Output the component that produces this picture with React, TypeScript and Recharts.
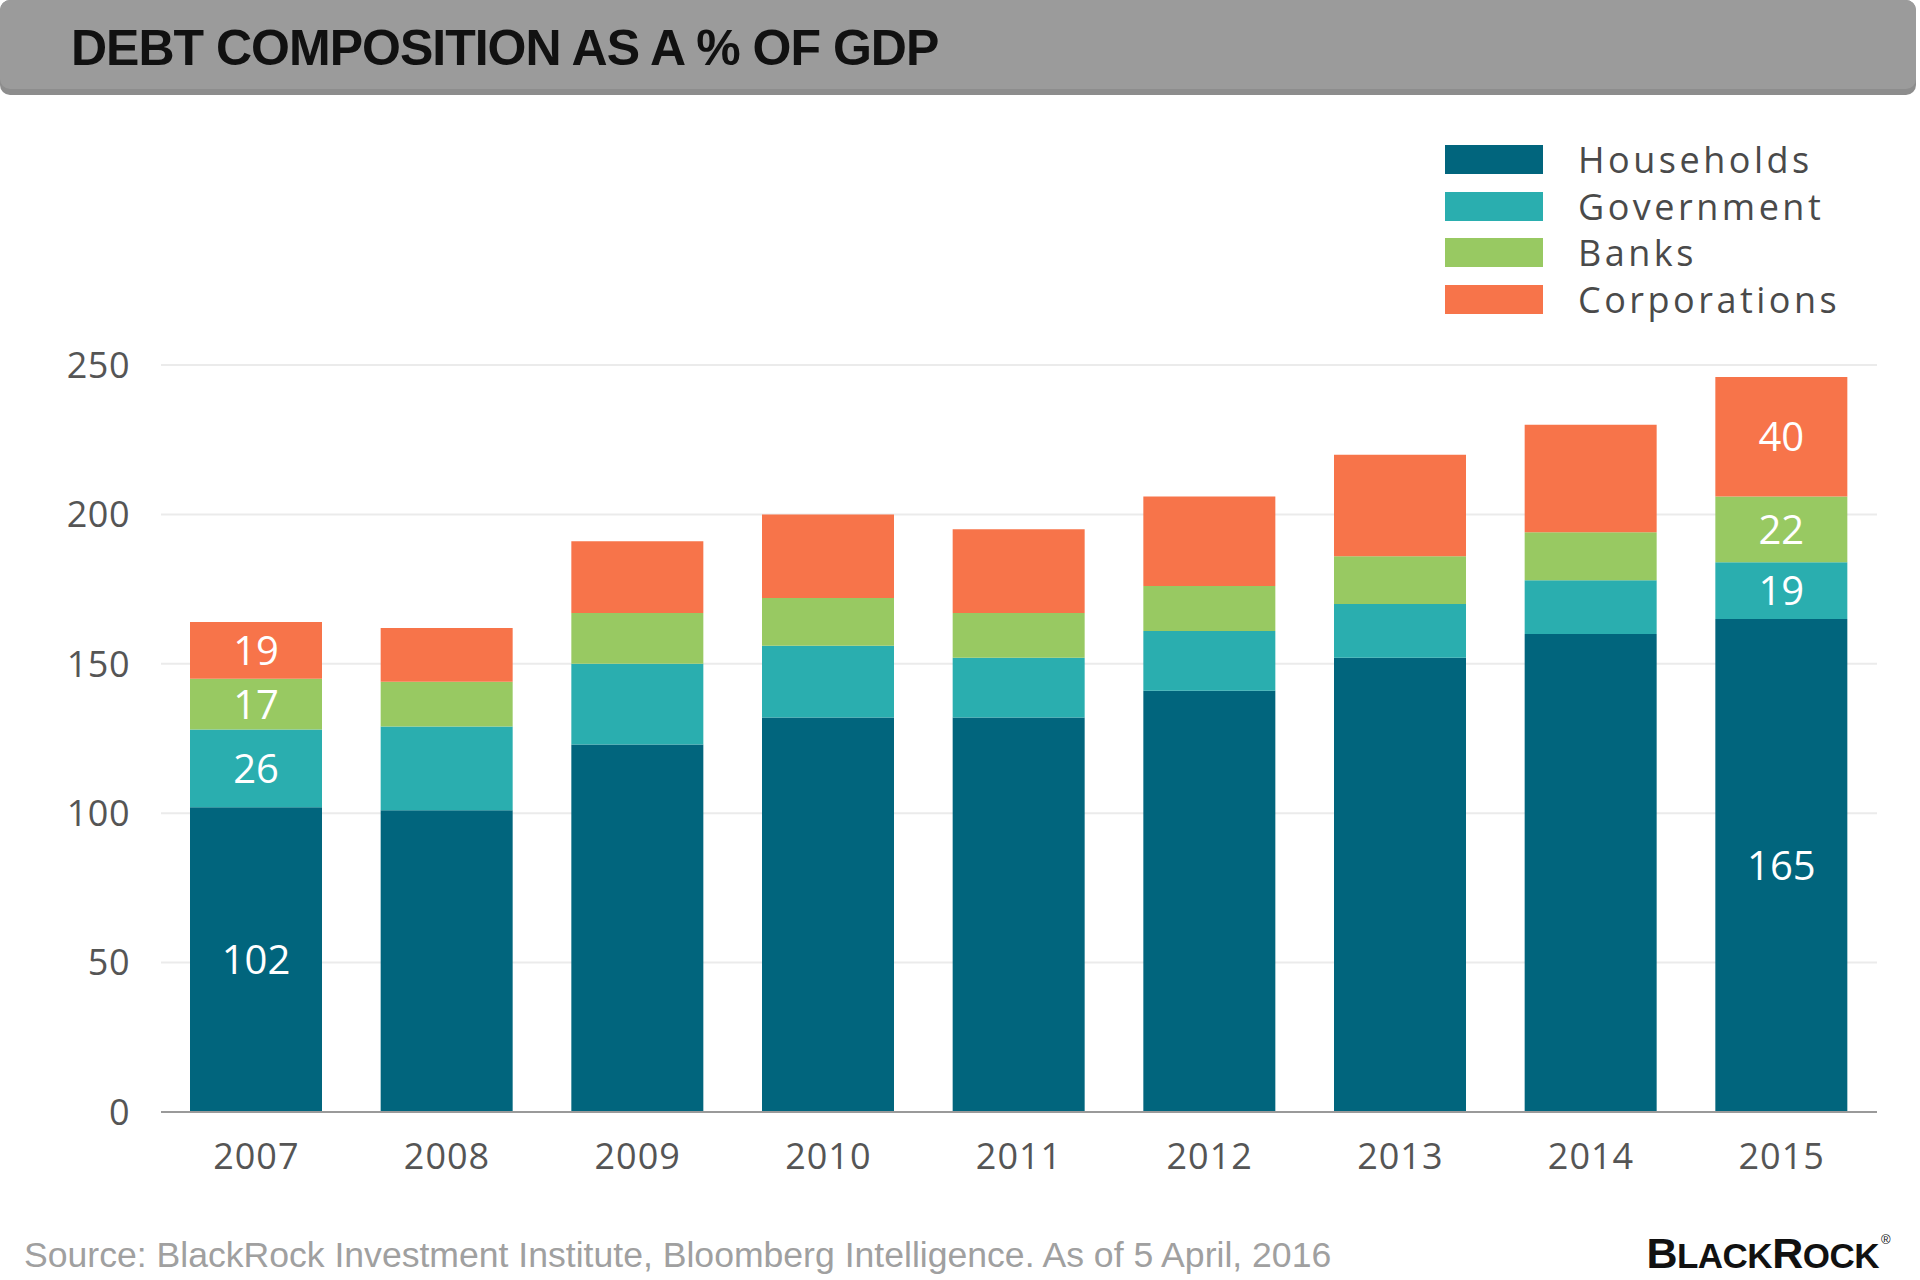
import { Bar, BarChart, CartesianGrid, LabelList, Legend, XAxis, YAxis } from "recharts";

// Werte (% des BIP)
const YEARS = ["2007", "2008", "2009", "2010", "2011", "2012", "2013", "2014", "2015"];
const HOUSEHOLDS = [102, 101, 123, 132, 132, 141, 152, 160, 165];
const GOVERNMENT = [26, 28, 27, 24, 20, 20, 18, 18, 19];
const BANKS = [17, 15, 17, 16, 15, 15, 16, 16, 22];
const CORPORATIONS = [19, 18, 24, 28, 28, 30, 34, 36, 40];
const Y_TICKS = [0, 50, 100, 150, 200, 250];
const LABELED_YEARS = ["2007", "2015"];

const SERIES = [
  { key: "households", name: "Households", color: "#01657d" },
  { key: "government", name: "Government", color: "#2aaeaf" },
  { key: "banks", name: "Banks", color: "#98c962" },
  { key: "corporations", name: "Corporations", color: "#f7744a" },
];

const data = YEARS.map((year, i) => ({
  year,
  households: HOUSEHOLDS[i],
  government: GOVERNMENT[i],
  banks: BANKS[i],
  corporations: CORPORATIONS[i],
}));

const FONT = "'Open Sans', sans-serif";
const ARIAL = "'Liberation Sans', Arial, sans-serif";

function renderLabel(props: any) {
  const { index, value } = props;
  const box = props.viewBox ?? props;
  if (!LABELED_YEARS.includes(YEARS[index])) return null;
  return (
    <text
      x={box.x + box.width / 2}
      y={box.y + box.height / 2}
      dy="0.36em"
      textAnchor="middle"
      fill="#ffffff"
      fontSize={40}
      fontFamily={FONT}
    >
      {value}
    </text>
  );
}

// Legende in Stapel-Reihenfolge (nicht alphabetisch)
function LegendBox({ payload }: any) {
  const items = SERIES.map((s) => (payload ?? []).find((p: any) => p.value === s.name) ?? { value: s.name, color: s.color });
  return (
    <div style={{ display: "flex", flexDirection: "column", gap: 17.5 }}>
      {items.map((p: any) => (
        <div key={p.value} style={{ display: "flex", alignItems: "center", height: 29 }}>
          <span style={{ width: 98, height: 29, background: p.color, display: "inline-block" }} />
          <span
            style={{
              marginLeft: 35,
              fontFamily: FONT,
              fontSize: 36,
              letterSpacing: 3.5,
              color: "#4a4a4a",
              lineHeight: "29px",
            }}
          >
            {p.value}
          </span>
        </div>
      ))}
    </div>
  );
}

export default function App() {
  return (
    <div style={{ position: "absolute", left: 0, top: 0, width: 1920, height: 1280, background: "#fff", overflow: "hidden" }}>
      {/* Kopfzeile, Quelle, Logo */}
      <svg width={1920} height={1280} style={{ position: "absolute", left: 0, top: 0 }}>
        <rect x={0} y={0} width={1916} height={95} rx={10} fill="#8d8d8d" />
        <rect x={0} y={0} width={1916} height={89} rx={10} fill="#9b9b9b" />
        <text x={71} y={65} fontFamily={ARIAL} fontWeight={700} fontSize={50} letterSpacing={-1} fill="#111">
          DEBT COMPOSITION AS A % OF GDP
        </text>
        <text x={24} y={1267} fontFamily={ARIAL} fontSize={35.6} fill="#a0a0a0">
          Source: BlackRock Investment Institute, Bloomberg Intelligence. As of 5 April, 2016
        </text>
        <text x={1879} y={1268} textAnchor="end" fontFamily={ARIAL} fontWeight={700} fill="#111" letterSpacing={-0.5}>
          <tspan fontSize={43}>B</tspan>
          <tspan fontSize={35}>LACK</tspan>
          <tspan fontSize={43}>R</tspan>
          <tspan fontSize={35}>OCK</tspan>
        </text>
        <text x={1881} y={1244} fontFamily={ARIAL} fontSize={13} fill="#111">
          ®
        </text>
      </svg>

      <div style={{ position: "absolute", left: 0, top: 0 }}>
        <BarChart
          width={1920}
          height={1280}
          data={data}
          margin={{ top: 365, right: 43, bottom: 0, left: 0 }}
          style={{ fontFamily: FONT }}
        >
          <CartesianGrid vertical={false} stroke="#ebebeb" strokeWidth={2} />
          <XAxis
            dataKey="year"
            height={168}
            interval={0}
            tickLine={false}
            tickSize={0}
            tickMargin={31}
            axisLine={{ stroke: "#9a9a9a", strokeWidth: 2 }}
            tick={{ fill: "#555", fontSize: 36, fontFamily: FONT, letterSpacing: 1 }}
          />
          <YAxis
            width={161}
            domain={[0, 250]}
            ticks={Y_TICKS}
            axisLine={false}
            tickLine={false}
            tickSize={0}
            tickMargin={31}
            tick={{ fill: "#555", fontSize: 36, fontFamily: FONT, letterSpacing: 0.5 }}
          />
          <Legend
            layout="horizontal"
            verticalAlign="middle"
            align="center"
            content={<LegendBox />}
            wrapperStyle={{ top: 145, left: 1445, width: 460, height: 200 }}
          />
          {SERIES.map((s) => (
            <Bar key={s.key} dataKey={s.key} name={s.name} stackId="debt" fill={s.color} barSize={132} isAnimationActive={false}>
              <LabelList dataKey={s.key} content={renderLabel} />
            </Bar>
          ))}
        </BarChart>
      </div>
    </div>
  );
}
